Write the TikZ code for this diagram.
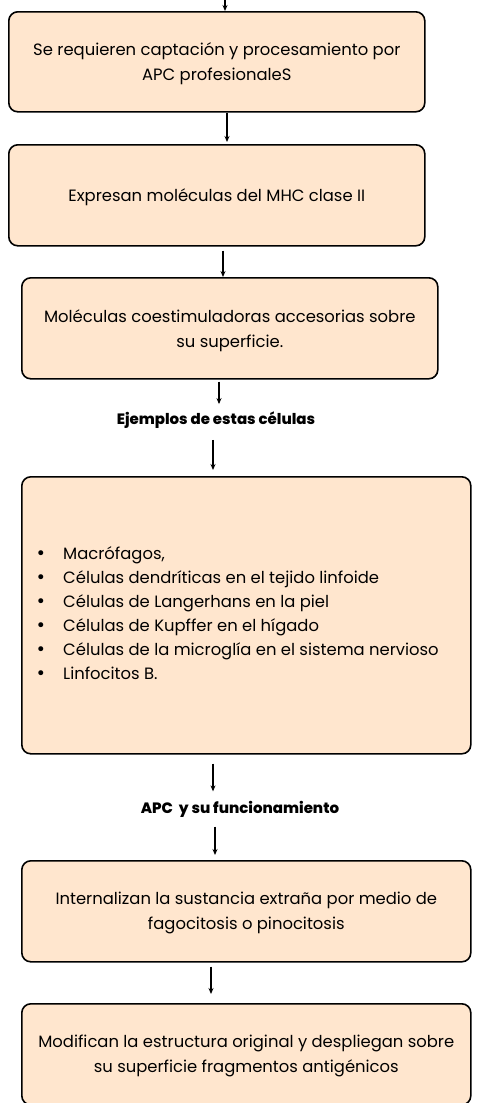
\documentclass[tikz,border=0pt]{standalone}
\usepackage{fontspec}
\setmainfont{Poppins}
\newfontfamily\bulfont{DejaVu Sans}
\newfontfamily\heavyfont{Poppins}[UprightFont=* ExtraBold]
\usetikzlibrary{arrows.meta}
\definecolor{peach}{HTML}{FFE6CE}
\begin{document}
\begin{tikzpicture}[x=1pt,y=1pt,
  box/.style={draw=black,line width=1.6pt,fill=peach,rounded corners=9pt,inner sep=0pt},
  boxtext/.style={font=\fontsize{16.4}{25}\selectfont,align=center},
  item/.style={font=\fontsize{16.4}{25}\selectfont,anchor=base west,inner sep=0pt},
  bul/.style={font=\bulfont\fontsize{17}{20}\selectfont,anchor=base,inner sep=0pt},
  lbl/.style={font=\heavyfont\fontsize{15}{18}\selectfont},
  arr/.style={line width=1.1pt,-{Stealth[length=6pt,width=5pt]}}]
\useasboundingbox (0,0) rectangle (488,-1103);
% boxes
\node[box,minimum width=416pt,minimum height=100pt,anchor=north west] (b1) at (8,-11) {};
\node[boxtext] (t1) at ([yshift=-2pt]b1.center) {Se requieren captación y procesamiento por\\APC profesionaleS};
\node[box,minimum width=416pt,minimum height=101pt,anchor=north west] (b2) at (8,-144) {};
\node[boxtext] (t2) at ([yshift=-2pt]b2.center) {Expresan moléculas del MHC clase II};
\node[box,minimum width=416pt,minimum height=101pt,anchor=north west] (b3) at (21,-277) {};
\node[boxtext] (t3) at ([yshift=-2pt]b3.center) {Moléculas coestimuladoras accesorias sobre\\su superficie.};
\node[lbl] (l1) at (216,-420) {Ejemplos de estas células};
\node[box,minimum width=449pt,minimum height=277pt,anchor=north west] (b4) at (21,-476) {};
\foreach \n/\y/\t in {1/559/{Macrófagos,},2/583/{Células dendríticas en el tejido linfoide},
  3/607/{Células de Langerhans en la piel},4/631/{Células de Kupffer en el hígado},
  5/655/{Células de la microglía en el sistema nervioso},6/679/{Linfocitos B.}}{
  \node[bul] (d\n) at (41,-\y) {•};
  \node[item] (i\n) at (63,-\y) {\t};
}
\node[lbl] (l2) at (240,-809) {APC\ \ y su funcionamiento};
\node[box,minimum width=449pt,minimum height=101pt,anchor=north west] (b5) at (21,-860) {};
\node[boxtext] (t5) at ([yshift=-2pt]b5.center) {Internalizan la sustancia extraña por medio de\\fagocitosis o pinocitosis};
\node[box,minimum width=449pt,minimum height=101pt,anchor=north west] (b6) at (21,-1003) {};
\node[boxtext] (t6) at ([yshift=-2pt]b6.center) {Modifican la estructura original y despliegan sobre\\su superficie fragmentos antigénicos};
% connectors
\coordinate (top) at (225,0);
\draw[arr] (top) -- (b1.north -| top);
\draw[arr] (b1.south -| 227,0) -- ([yshift=2pt]b2.north -| 227,0);
\draw[arr] ([yshift=-4pt]b2.south -| 223,0) -- (b3.north -| 223,0);
\draw[arr] ([yshift=-2pt]b3.south -| 219,0) -- ([yshift=4pt]l1.north -| 219,0);
\draw[arr] ([yshift=-8pt]l1.south -| 213,0) -- ([yshift=6pt]b4.north -| 213,0);
\draw[arr] ([yshift=-9pt]b4.south -| 213,0) -- ([yshift=6pt]l2.north -| 213,0);
\draw[arr] ([yshift=-6pt]l2.south -| 215,0) -- ([yshift=5pt]b5.north -| 215,0);
\draw[arr] ([yshift=-4pt]b5.south -| 211,0) -- ([yshift=9pt]b6.north -| 211,0);
\end{tikzpicture}
\end{document}
